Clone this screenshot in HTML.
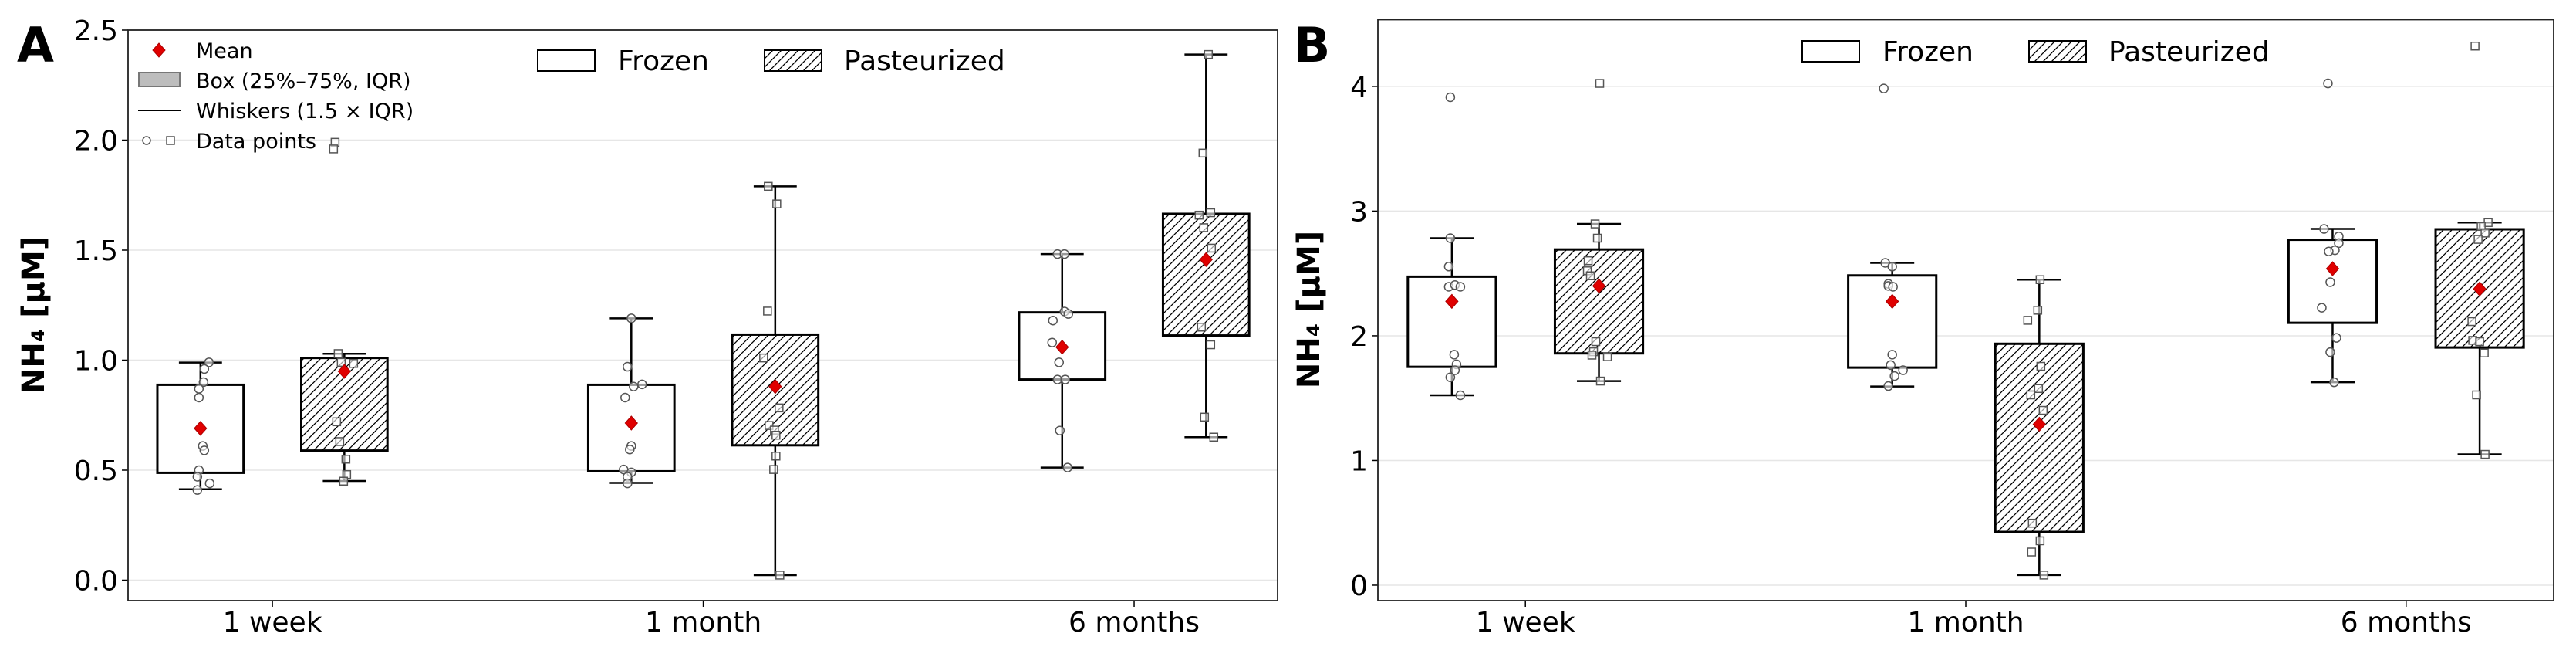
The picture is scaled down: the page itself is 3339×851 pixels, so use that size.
<!DOCTYPE html>
<html><head><meta charset="utf-8">
<style>
html,body{margin:0;padding:0;background:#fff;}
svg{display:block;font-family:"DejaVu Sans","Liberation Sans",sans-serif;}
</style></head>
<body>
<svg id="chart" width="3339" height="851" viewBox="0 0 3339 851" xmlns="http://www.w3.org/2000/svg">
<defs>
<pattern id="hatch" patternUnits="userSpaceOnUse" width="11" height="11">
<rect x="0" y="0" width="11" height="11" fill="#fff"/>
<path d="M-1,12 L12,-1 M-3,3 L3,-3 M8,14 L14,8" stroke="#000" stroke-width="1.3"/>
</pattern>
</defs>
</svg>
<script>
// ---------- DATA ----------
const categories = ["1 week", "1 month", "6 months"];
const ticksA = [0.0, 0.5, 1.0, 1.5, 2.0, 2.5];
const tickLabelsA = ["0.0", "0.5", "1.0", "1.5", "2.0", "2.5"];
const ticksB = [0, 1, 2, 3, 4];
const tickLabelsB = ["0", "1", "2", "3", "4"];

// Panel A
const aFrozenQ1 = [0.488, 0.495, 0.912];
const aFrozenQ3 = [0.888, 0.888, 1.217];
const aFrozenLo = [0.413, 0.442, 0.512];
const aFrozenHi = [0.989, 1.19, 1.482];
const aFrozenMean = [0.69, 0.714, 1.059];
const aPastQ1 = [0.589, 0.613, 1.112];
const aPastQ3 = [1.01, 1.116, 1.665];
const aPastLo = [0.451, 0.023, 0.65];
const aPastHi = [1.029, 1.79, 2.389];
const aPastMean = [0.949, 0.88, 1.457];
const aFrozenPts = [
  [0.99, 0.96, 0.90, 0.87, 0.83, 0.61, 0.59, 0.50, 0.47, 0.44, 0.41],
  [1.19, 0.97, 0.88, 0.89, 0.83, 0.61, 0.594, 0.503, 0.49, 0.47, 0.44],
  [1.482, 1.482, 1.221, 1.21, 1.18, 1.08, 0.99, 0.912, 0.912, 0.68, 0.512]
];
const aFrozenJit = [
  [11, 5, 4, -2, -2, 3, 5, -2, -4, 12, -4],
  [0, -5, 3, 14, -8, 0, -2, -10, 0, -5, -5],
  [-6, 3, 3, 8, -12, -13, -4, -6, 4, -3, 7]
];
const aPastPts = [
  [1.03, 0.99, 0.985, 0.72, 0.63, 0.55, 0.48, 0.45, 1.99, 1.96],
  [1.79, 1.71, 1.223, 1.01, 0.783, 0.703, 0.682, 0.659, 0.564, 0.503, 0.023],
  [2.389, 1.941, 1.67, 1.659, 1.602, 1.509, 1.15, 1.07, 0.741, 0.65]
];
const aPastJit = [
  [-8, -4, 12, -10, -6, 2, 3, -1, -12, -14],
  [-9, 2, -10, -15, 5, -8, -1, 1, 1, -2, 6],
  [3, -4, 6, -9, -3, 7, -6, 6, -2, 10]
];

// Panel B
const bFrozenQ1 = [1.751, 1.745, 2.104];
const bFrozenQ3 = [2.474, 2.484, 2.77];
const bFrozenLo = [1.523, 1.593, 1.627];
const bFrozenHi = [2.783, 2.585, 2.857];
const bFrozenMean = [2.276, 2.276, 2.538];
const bPastQ1 = [1.859, 0.427, 1.906];
const bPastQ3 = [2.692, 1.936, 2.854];
const bPastLo = [1.637, 0.081, 1.049];
const bPastHi = [2.897, 2.45, 2.908];
const bPastMean = [2.4, 1.291, 2.376];
const bFrozenPts = [
  [3.913, 2.783, 2.555, 2.393, 2.407, 2.393, 1.849, 1.771, 1.724, 1.667, 1.523],
  [3.983, 2.585, 2.555, 2.417, 2.4, 2.393, 1.849, 1.765, 1.724, 1.677, 1.597],
  [4.024, 2.857, 2.797, 2.743, 2.686, 2.676, 2.43, 2.225, 1.983, 1.869, 1.627]
];
const bFrozenJit = [
  [-2, -2, -4, -4, 4, 11, 3, 6, 4, -2, 11],
  [-11, -9, 0, -5, -5, 1, 0, -2, 14, 3, -5],
  [-6, -11, 8, 8, 3, -5, -3, -14, 5, -3, 2]
];
const bPastPts = [
  [4.024, 2.897, 2.783, 2.602, 2.521, 2.481, 1.953, 1.872, 1.845, 1.832, 1.637],
  [2.45, 2.205, 2.124, 1.755, 1.577, 1.526, 1.402, 0.497, 0.356, 0.266, 0.081],
  [4.323, 2.908, 2.877, 2.824, 2.773, 2.114, 1.963, 1.953, 1.862, 1.526, 1.049]
];
const bPastJit = [
  [1, -5, -2, -14, -15, -11, -4, -7, -9, 11, 2],
  [1, -2, -15, 2, -1, -11, 5, -9, 1, -10, 6],
  [-6, 11, 2, 7, -2, -10, -9, 0, 6, -4, 7]
];

// ---------- DRAW ----------
const NS = "http://www.w3.org/2000/svg";
const svg = document.getElementById("chart");
function mk(tag, attrs, parent) {
  const e = document.createElementNS(NS, tag);
  for (const k in attrs) e.setAttribute(k, attrs[k]);
  (parent || svg).appendChild(e);
  return e;
}
function txt(str, attrs, parent) { const t = mk("text", attrs, parent); t.textContent = str; return t; }

function drawPanel(p) {
  const g = mk("g", {});
  
  
  const xS = v => p.left + (v - p.xMin) / (p.xMax - p.xMin) * (p.right - p.left);
  const yS = v => p.bottom - (v - p.yMin) / (p.yMax - p.yMin) * (p.bottom - p.top);
  p.ticks.forEach((t, i) => {
    const gl = mk("line", {x1: p.left, x2: p.right, y1: yS(t), y2: yS(t), stroke: "#e6e6e6", "stroke-width": 1.5}, g);
    
    
    const tk = mk("line", {x1: p.left - 8, x2: p.left, y1: yS(t), y2: yS(t), stroke: "#000", "stroke-width": 1.5}, g);
    
    
    const lb = txt(p.tickLabels[i], {x: p.left - 13, y: yS(t) + 13, "text-anchor": "end", "font-size": 36}, g);
    
    
  });
  categories.forEach((c, i) => {
    const tk = mk("line", {x1: xS(i), x2: xS(i), y1: p.bottom, y2: p.bottom + 8, stroke: "#000", "stroke-width": 1.5}, g);
    
    
    const lb = txt(c, {x: xS(i), y: p.bottom + 40, "text-anchor": "middle", "font-size": 36}, g);
    
    
  });
  const bw = 0.2, off = 0.167;
  p.series.forEach(s => {
    categories.forEach((c, i) => {
      const cx = xS(i + s.offSign * off);
      const x0 = xS(i + s.offSign * off - bw / 2), x1 = xS(i + s.offSign * off + bw / 2);
      const capL = xS(i + s.offSign * off - bw / 4), capR = xS(i + s.offSign * off + bw / 4);
      const wh = mk("line", {x1: cx, x2: cx, y1: yS(s.lo[i]), y2: yS(s.hi[i]), stroke: "#000", "stroke-width": 2.5}, g);
      
      
      const c1 = mk("line", {x1: capL, x2: capR, y1: yS(s.lo[i]), y2: yS(s.lo[i]), stroke: "#000", "stroke-width": 2.5}, g);
      
      
      const c2 = mk("line", {x1: capL, x2: capR, y1: yS(s.hi[i]), y2: yS(s.hi[i]), stroke: "#000", "stroke-width": 2.5}, g);
      
      
      if (s.hatch) {
        const bg = mk("rect", {x: x0, y: yS(s.q3[i]), width: x1 - x0, height: yS(s.q1[i]) - yS(s.q3[i]), fill: "#fff"}, g);
        
        
      }
      const bx = mk("rect", {x: x0, y: yS(s.q3[i]), width: x1 - x0, height: yS(s.q1[i]) - yS(s.q3[i]),
        fill: s.hatch ? "url(#hatch)" : "#fff", stroke: "#000", "stroke-width": 3}, g);
      
      
      s.pts[i].forEach((v, j) => {
        const px = cx + s.jit[i][j], py = yS(v);
        let m;
        if (s.hatch) m = mk("rect", {x: px - 5, y: py - 5, width: 10, height: 10, fill: "rgba(255,255,255,0.6)", stroke: "#555", "stroke-width": 1.5}, g);
        else m = mk("circle", {cx: px, cy: py, r: 5.5, fill: "rgba(255,255,255,0.6)", stroke: "#555", "stroke-width": 1.5}, g);
        
        
      });
      const my = yS(s.mean[i]);
      const d = mk("polygon", {points: `${cx},${my - 9} ${cx + 8},${my} ${cx},${my + 9} ${cx - 8},${my}`, fill: "#e00000", stroke: "#a00", "stroke-width": 1}, g);
      
      
    });
  });
  const fr = mk("rect", {x: p.left, y: p.top, width: p.right - p.left, height: p.bottom - p.top, fill: "none", stroke: "#222", "stroke-width": 1.8}, g);
  
  
  const yl = txt("NH₄ [µM]", {x: 0, y: 0, transform: `translate(${p.yLabelX},${p.yLabelY}) rotate(-90)`, "text-anchor": "middle", "font-size": 40, "font-weight": "bold"}, g);
  
  
  const pl = txt(p.letter, {x: p.letterX, y: 80, "font-size": 62, "font-weight": "bold"}, g);
  
  
  const L = p.legend;
  const lg = mk("g", {}, g);
  
  
  const r1 = mk("rect", {x: L.fx, y: L.cy - 13, width: 74, height: 27, fill: "#fff", stroke: "#000", "stroke-width": 2}, lg);
  
  
  const t1 = txt("Frozen", {x: L.fx + 104, y: L.cy + 13, "font-size": 36}, lg);
  
  
  const r2 = mk("rect", {x: L.px, y: L.cy - 13, width: 74, height: 27, fill: "url(#hatch)", stroke: "#000", "stroke-width": 2}, lg);
  
  
  const t2 = txt("Pasteurized", {x: L.px + 103, y: L.cy + 13, "font-size": 36}, lg);
  
  
  return g;
}

drawPanel({
  name: "panel-a", letter: "A", letterX: 22, left: 166, right: 1656, top: 39, bottom: 778,
  xMin: -0.335, xMax: 2.333, yMin: -0.093, yMax: 2.5, ticks: ticksA, tickLabels: tickLabelsA,
  yLabelX: 57, yLabelY: 408, legend: {fx: 697, px: 991, cy: 78},
  series: [
    {key: "frozen", offSign: -1, hatch: false, q1: aFrozenQ1, q3: aFrozenQ3, lo: aFrozenLo, hi: aFrozenHi, mean: aFrozenMean, pts: aFrozenPts, jit: aFrozenJit},
    {key: "pasteurized", offSign: 1, hatch: true, q1: aPastQ1, q3: aPastQ3, lo: aPastLo, hi: aPastHi, mean: aPastMean, pts: aPastPts, jit: aPastJit}
  ]
});
drawPanel({
  name: "panel-b", letter: "B", letterX: 1677, left: 1786, right: 3310, top: 25.5, bottom: 778,
  xMin: -0.335, xMax: 2.335, yMin: -0.124, yMax: 4.535, ticks: ticksB, tickLabels: tickLabelsB,
  yLabelX: 1710, yLabelY: 401, legend: {fx: 2336, px: 2630, cy: 66},
  series: [
    {key: "frozen", offSign: -1, hatch: false, q1: bFrozenQ1, q3: bFrozenQ3, lo: bFrozenLo, hi: bFrozenHi, mean: bFrozenMean, pts: bFrozenPts, jit: bFrozenJit},
    {key: "pasteurized", offSign: 1, hatch: true, q1: bPastQ1, q3: bPastQ3, lo: bPastLo, hi: bPastHi, mean: bPastMean, pts: bPastPts, jit: bPastJit}
  ]
});

const sl = mk("g", {});


const lm = mk("polygon", {points: "206,56 214,65 206,74 198,65", fill: "#e00000", stroke: "#a00", "stroke-width": 1}, sl);


const lb = mk("rect", {x: 180, y: 94, width: 53, height: 18, fill: "#bdbdbd", stroke: "#777", "stroke-width": 2}, sl);


const lw = mk("line", {x1: 179, x2: 234, y1: 143, y2: 143, stroke: "#000", "stroke-width": 2}, sl);


const lc = mk("circle", {cx: 190, cy: 182, r: 5, fill: "#fff", stroke: "#555", "stroke-width": 1.5}, sl);


const ls = mk("rect", {x: 216, y: 177, width: 10, height: 10, fill: "#fff", stroke: "#555", "stroke-width": 1.5}, sl);


const legendLabels = ["Mean", "Box (25%–75%, IQR)", "Whiskers (1.5 × IQR)", "Data points"];
legendLabels.forEach((s, i) => {
  const t = txt(s, {x: 254, y: 75 + i * 39, "font-size": 27}, sl);
  
  
});
</script>
</body></html>
